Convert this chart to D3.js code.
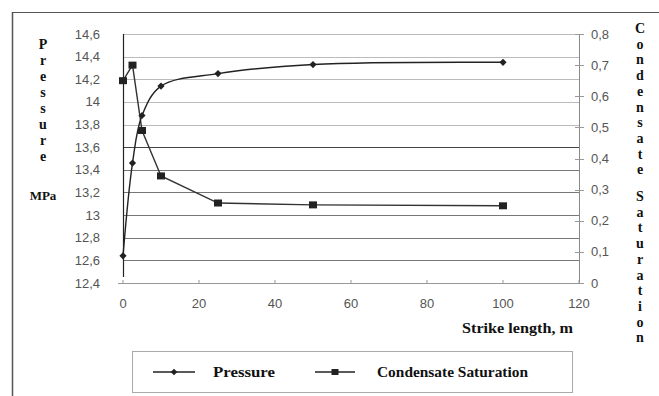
<!DOCTYPE html>
<html>
<head>
<meta charset="utf-8">
<script src="https://cdn.jsdelivr.net/npm/d3@7"></script>
<style>
  html, body { margin: 0; padding: 0; background: #fff; }
  svg { display: block; }
</style>
</head>
<body>
<svg id="chart" width="659" height="396"></svg>
<script>
// ---- data ----
const strikeLength = [0, 2.5, 5, 10, 25, 50, 100];
const pressure = [12.64, 13.46, 13.88, 14.14, 14.25, 14.33, 14.35];
const condensateSaturation = [0.65, 0.70, 0.49, 0.344, 0.257, 0.251, 0.248];
const xTicks = [0, 20, 40, 60, 80, 100, 120];
const leftTicks = [12.4, 12.6, 12.8, 13.0, 13.2, 13.4, 13.6, 13.8, 14.0, 14.2, 14.4, 14.6];
const rightTicks = [0, 0.1, 0.2, 0.3, 0.4, 0.5, 0.6, 0.7, 0.8];
const leftTitle = "Pressure";
const leftUnit = "MPa";
const rightTitle = "Condensate Saturation";
const xTitle = "Strike length, m";
const legendNames = ["Pressure", "Condensate Saturation"];

// ---- layout ----
const svg = d3.select("#chart");
const L = 123, R = 579, T = 34, B = 283;

const x = d3.scaleLinear().domain([0, 120]).range([L, R]);
const yL = d3.scaleLinear().domain([12.4, 14.6]).range([B, T]);
const yR = d3.scaleLinear().domain([0, 0.8]).range([B, T]);

const fmt = v => (Math.round(v * 10) / 10).toString().replace(".", ",");

// outer frame (top and left lines)
svg.append("line").attr("x1", 12).attr("x2", 659).attr("y1", 12.5).attr("y2", 12.5)
  .attr("stroke", "#555").attr("stroke-width", 1.2);
svg.append("line").attr("x1", 12.5).attr("x2", 12.5).attr("y1", 12).attr("y2", 396)
  .attr("stroke", "#555").attr("stroke-width", 1.5);

// gridlines
svg.append("g").selectAll("line").data(leftTicks.slice(1)).join("line")
  .attr("x1", L).attr("x2", R)
  .attr("y1", d => Math.round(yL(d)) + 0.5).attr("y2", d => Math.round(yL(d)) + 0.5)
  .attr("stroke", d => d <= 13.65 ? (Math.abs(d - 13.6) < 0.01 ? "#444" : "#777") : "#bbb")
  .attr("stroke-width", 1);

// plot borders
svg.append("line").attr("x1", R + 0.5).attr("x2", R + 0.5).attr("y1", T).attr("y2", B)
  .attr("stroke", "#888");
svg.append("line").attr("x1", L - 5).attr("x2", R).attr("y1", B + 0.5).attr("y2", B + 0.5)
  .attr("stroke", "#999");
svg.append("line").attr("x1", L + 0.5).attr("x2", L + 0.5).attr("y1", T).attr("y2", B - 6)
  .attr("stroke", "#222").attr("stroke-width", 1.2);

// left axis labels
svg.append("g").selectAll("text").data(leftTicks).join("text")
  .attr("x", 100).attr("y", d => yL(d) + 4.5)
  .attr("text-anchor", "end")
  .attr("font-family", "Liberation Sans, Arial, sans-serif").attr("font-size", 13)
  .attr("fill", "#555")
  .text(d => fmt(d));

// right axis ticks and labels
svg.append("g").selectAll("line").data(rightTicks).join("line")
  .attr("x1", R - 4).attr("x2", R + 5)
  .attr("y1", d => Math.round(yR(d)) + 0.5).attr("y2", d => Math.round(yR(d)) + 0.5)
  .attr("stroke", "#999");
svg.append("g").selectAll("text").data(rightTicks).join("text")
  .attr("x", 591).attr("y", d => yR(d) + 4.5)
  .attr("text-anchor", "start")
  .attr("font-family", "Liberation Sans, Arial, sans-serif").attr("font-size", 13)
  .attr("fill", "#555")
  .text(d => fmt(d));

// x axis ticks and labels
svg.append("g").selectAll("line").data(xTicks).join("line")
  .attr("x1", d => x(d)).attr("x2", d => x(d))
  .attr("y1", B - 3).attr("y2", B + 1)
  .attr("stroke", "#999");
svg.append("g").selectAll("text").data(xTicks).join("text")
  .attr("x", d => x(d)).attr("y", 308)
  .attr("text-anchor", "middle")
  .attr("font-family", "Liberation Sans, Arial, sans-serif").attr("font-size", 13)
  .attr("fill", "#555")
  .text(d => d);

// axis titles
const serif = "Liberation Serif, Times New Roman, serif";
svg.append("g").selectAll("text").data(leftTitle.split("")).join("text")
  .attr("x", 43).attr("y", (d, i) => 49 + i * 16)
  .attr("text-anchor", "middle")
  .attr("font-family", serif).attr("font-weight", "bold").attr("font-size", 14)
  .attr("fill", "#111").text(d => d);
svg.append("text").attr("x", 43).attr("y", 200).attr("text-anchor", "middle")
  .attr("font-family", serif).attr("font-weight", "bold").attr("font-size", 13)
  .attr("fill", "#111").text(leftUnit);

const rChars = rightTitle.split("");
let yy = 33;
const rPos = [];
rChars.forEach(c => { if (c === " ") { yy += 11; } else { rPos.push({c, y: yy}); yy += 15.7; } });
svg.append("g").selectAll("text").data(rPos).join("text")
  .attr("x", 640).attr("y", d => d.y)
  .attr("text-anchor", "middle")
  .attr("font-family", serif).attr("font-weight", "bold").attr("font-size", 14)
  .attr("fill", "#111").text(d => d.c);

svg.append("text").attr("x", 462).attr("y", 333)
  .attr("font-family", serif).attr("font-weight", "bold").attr("font-size", 14)
  .attr("textLength", 111).attr("lengthAdjust", "spacingAndGlyphs")
  .attr("fill", "#111").text(xTitle);

// series
const pData = strikeLength.map((s, i) => [s, pressure[i]]);
const cData = strikeLength.map((s, i) => [s, condensateSaturation[i]]);

svg.append("path").datum(cData)
  .attr("d", d3.line().x(d => x(d[0])).y(d => yR(d[1])))
  .attr("fill", "none").attr("stroke", "#333").attr("stroke-width", 1.4);
svg.append("path").datum(pData)
  .attr("d", d3.line().x(d => x(d[0])).y(d => yL(d[1])).curve(d3.curveCatmullRom.alpha(0.5)))
  .attr("fill", "none").attr("stroke", "#222").attr("stroke-width", 1.4);

svg.append("g").selectAll("path").data(pData).join("path")
  .attr("transform", d => `translate(${x(d[0])},${yL(d[1])}) rotate(45)`)
  .attr("d", d3.symbol().type(d3.symbolSquare).size(26))
  .attr("fill", "#222");
svg.append("g").selectAll("rect").data(cData).join("rect")
  .attr("x", d => x(d[0]) - 4).attr("y", d => yR(d[1]) - 3.5)
  .attr("width", 8).attr("height", 7)
  .attr("fill", "#222");

// legend
svg.append("rect").attr("x", 132.5).attr("y", 351.5).attr("width", 440).attr("height", 41)
  .attr("fill", "none").attr("stroke", "#aaa");
const lg = [
  {name: legendNames[0], x1: 153, x2: 195, tx: 213, w: 62, type: "d"},
  {name: legendNames[1], x1: 315, x2: 355, tx: 377, w: 151, type: "s"}
];
const ly = 372;
lg.forEach(g => {
  svg.append("line").attr("x1", g.x1).attr("x2", g.x2).attr("y1", ly).attr("y2", ly)
    .attr("stroke", "#222").attr("stroke-width", 1.3);
  const cx = (g.x1 + g.x2) / 2;
  if (g.type === "d") {
    svg.append("path").attr("transform", `translate(${cx},${ly}) rotate(45)`)
      .attr("d", d3.symbol().type(d3.symbolSquare).size(22)).attr("fill", "#222");
  } else {
    svg.append("rect").attr("x", cx - 3.5).attr("y", ly - 3).attr("width", 7).attr("height", 6)
      .attr("fill", "#222");
  }
  svg.append("text").attr("x", g.tx).attr("y", ly + 5)
    .attr("font-family", serif).attr("font-weight", "bold").attr("font-size", 15)
    .attr("textLength", g.w).attr("lengthAdjust", "spacingAndGlyphs")
    .attr("fill", "#111").text(g.name);
});
</script>
</body>
</html>
